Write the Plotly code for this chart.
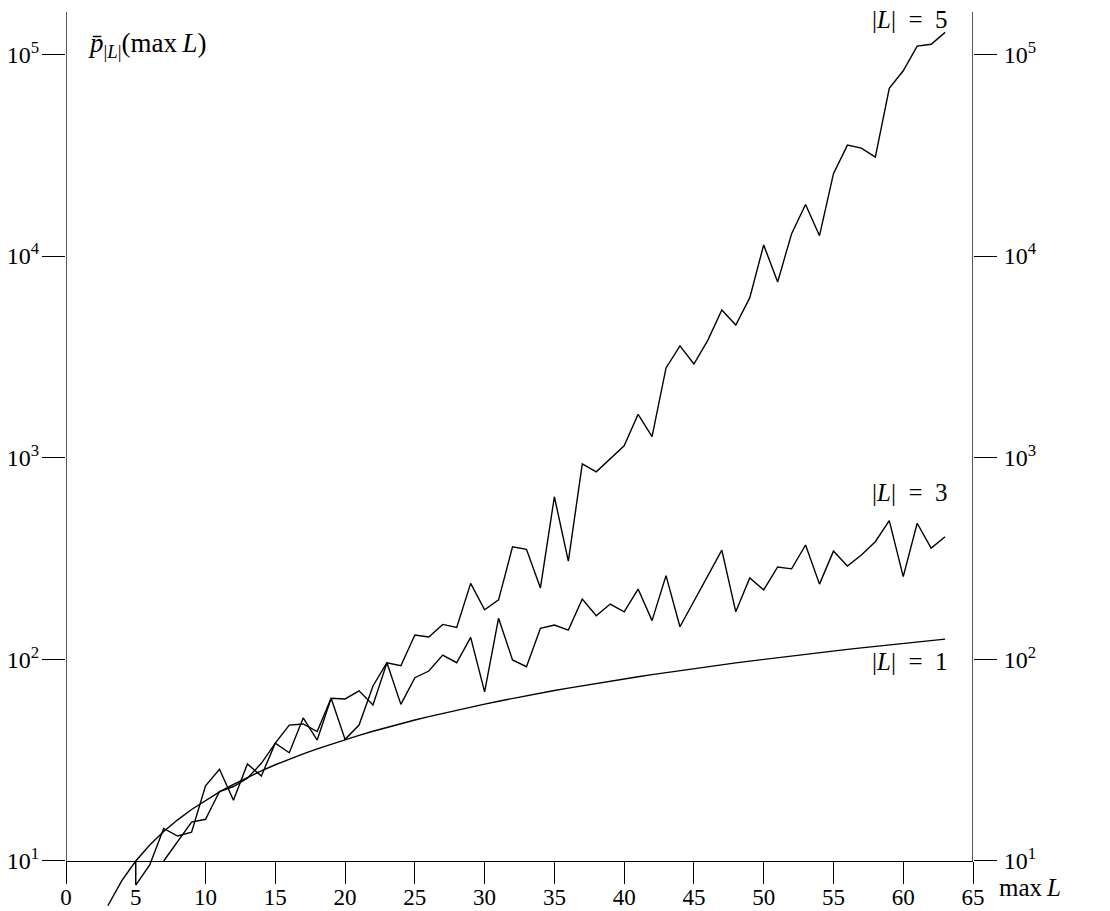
import plotly.graph_objects as go

# |L| = 1
L1_x = list(range(3, 64))
L1_y = [6, 8, 10, 12, 14, 16, 18, 20, 22, 24, 26, 28, 30, 32, 34, 36, 38, 40, 42, 44,
        46, 48, 50, 52, 54, 56, 58, 60, 62, 64, 66, 68, 70, 72, 74, 76, 78, 80, 82, 84,
        86, 88, 90, 92, 94, 96, 98, 100, 102, 104, 106, 108, 110, 112, 114, 116, 118, 120,
        122, 124, 126]

# |L| = 3
L3_x = list(range(7, 64))
L3_y = [10.0, 12.4, 15.6, 16.1, 22.1, 23.4, 25.7, 30.5, 38.4, 34.4, 51.2, 39.8, 64.1, 40.1,
        47.2, 73.8, 96.2, 59.8, 81.1, 87.5, 105, 96.2, 128.5, 69, 160, 99.3, 91.9, 142.6,
        148, 139.7, 199, 164.5, 188, 172, 223, 155.6, 260, 145, 195, 262, 348, 172, 253,
        221, 287, 281, 369, 236, 344, 290, 329, 383, 487, 257, 473, 356, 405]

# |L| = 5
L5_x = [5] + list(range(5, 64))
L5_y = [10, 7.6, 9.55, 14.5, 13.3, 13.9, 23.6, 28.5, 20.0, 30.3, 26.4, 38.4, 47.2, 47.8,
        43.8, 64.1, 63.6, 69.8, 59.4, 96.2, 92.9, 132, 129, 149, 144, 238, 176, 197, 361,
        351, 226, 640, 307, 931, 851, 993, 1145, 1641, 1270, 2786, 3581, 2914, 3828, 5395,
        4548, 6196, 11350, 7430, 12900, 17990, 12610, 25600, 35480, 34270, 30930, 67800,
        82900, 109900, 112200, 128500]

x_ticks = [0, 5, 10, 15, 20, 25, 30, 35, 40, 45, 50, 55, 60, 65]
y_ticks = [10, 100, 1000, 10000, 100000]
y_ticktext = ["10<sup>1</sup>", "10<sup>2</sup>", "10<sup>3</sup>", "10<sup>4</sup>", "10<sup>5</sup>"]

FONT = "Liberation Serif"
W, H = 1110, 911
left, right_edge, top, bottom_edge = 66, 973.5, 12, 908
ymin, ymax = 0.7669, 5.2099
frac10 = (1 - ymin) / (ymax - ymin)
pw = right_edge - left
ph = bottom_edge - top

def px(xp):
    return (xp - left) / pw

def py(yp):
    return (bottom_edge - yp) / ph

line = dict(color="black", width=1.4)
fig = go.Figure()
fig.add_trace(go.Scatter(x=L1_x, y=L1_y, mode="lines", line=line, showlegend=False))
fig.add_trace(go.Scatter(x=L3_x, y=L3_y, mode="lines", line=line, showlegend=False))
fig.add_trace(go.Scatter(x=L5_x, y=L5_y, mode="lines", line=line, showlegend=False))
fig.add_trace(go.Scatter(x=[None], y=[None], yaxis="y2", mode="lines", showlegend=False))

tickfont = dict(family=FONT, size=24, color="black")
xtickfont = dict(family=FONT, size=23, color="black")
fig.update_layout(
    width=W, height=H,
    margin=dict(l=left, r=W - right_edge, t=top, b=H - bottom_edge, autoexpand=False),
    paper_bgcolor="white", plot_bgcolor="white",
    showlegend=False,
    xaxis=dict(range=[0, 65], tickvals=x_ticks, ticktext=[str(v) for v in x_ticks],
               ticks="outside", ticklen=22, tickwidth=1.3, tickcolor="black",
               showline=True, linecolor="black", linewidth=1.3,
               showgrid=False, zeroline=False, anchor="free", position=frac10,
               tickfont=xtickfont, automargin=False, ticklabelstandoff=-7),
    yaxis=dict(type="log", range=[ymin, ymax], tickvals=y_ticks, ticktext=y_ticktext,
               ticks="outside", ticklen=23, tickwidth=1.3, tickcolor="black",
               showline=False, showgrid=False, zeroline=False,
               tickfont=tickfont, automargin=False, ticklabelstandoff=-2),
    yaxis2=dict(type="log", range=[ymin, ymax], tickvals=y_ticks, ticktext=y_ticktext,
                overlaying="y", side="right", anchor="x",
                ticks="outside", ticklen=23, tickwidth=1.3, tickcolor="black",
                showline=False, showgrid=False, zeroline=False,
                tickfont=tickfont, automargin=False, ticklabelstandoff=2),
)

# vertical axis lines from 10^1 upward
for xv in (0, 65):
    fig.add_shape(type="line", xref="x", yref="paper", x0=xv, x1=xv, y0=frac10, y1=1,
                  line=dict(color="black", width=1.3))

afont = dict(family=FONT, size=25, color="black")
fig.add_annotation(x=px(86), y=py(45), xref="paper", yref="paper", xanchor="left", yanchor="middle",
                   text="<i>p\u0304</i><sub>|<i>L</i>|</sub>(max\u2009<i>L</i>)", showarrow=False,
                   font=dict(family=FONT, size=27, color="black"))
fig.add_annotation(x=px(950), y=py(20), xref="paper", yref="paper", xanchor="right", yanchor="middle",
                   text="|<i>L</i>|\u2002=\u20025", showarrow=False, font=afont)
fig.add_annotation(x=px(950), y=py(492), xref="paper", yref="paper", xanchor="right", yanchor="middle",
                   text="|<i>L</i>|\u2002=\u20023", showarrow=False, font=afont)
fig.add_annotation(x=px(950), y=py(661), xref="paper", yref="paper", xanchor="right", yanchor="middle",
                   text="|<i>L</i>|\u2002=\u20021", showarrow=False, font=afont)
fig.add_annotation(x=px(998), y=py(887), xref="paper", yref="paper", xanchor="left", yanchor="middle",
                   text="max\u2009<i>L</i>", showarrow=False, font=afont)

fig.write_html("out.html", config={"displayModeBar": False},
               post_script="document.body.style.margin='0px';document.body.style.overflow='hidden';")
